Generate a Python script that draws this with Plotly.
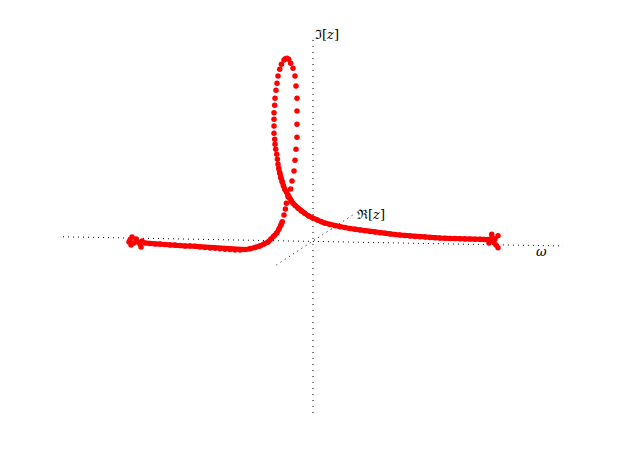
import plotly.graph_objects as go

# Curve samples, projected view coordinates (horizontal ~ omega axis, vertical ~ Im axis)
curve_x = [
    -184, -183, -181, -182, -179, -177, -175, -173, -171, -172,
    -168, -163, -158, -153, -148, -143, -138, -133, -128, -123, -118, -113, -108, -103,
    -98, -93, -88, -83, -78, -73, -68, -63, -58, -53, -49, -45, -42, -39, -36.3, -34,
    -32, -30.7,
    -29, -27.6, -26.6, -25, -22.3, -21, -19, -18, -17, -16, -16, -16, -16, -17, -18,
    -20, -22.3, -24.3, -26, -27.6, -29, -31.6, -33.3, -35, -36, -37, -38, -38.3, -39,
    -39, -39, -39, -38.3, -38, -37.3, -36.3, -35.6, -35, -34.3, -33.3, -32.3, -31,
    -29.6, -28.3, -26.6, -25, -23.3, -21.8, -20, -17.8, -15, -11.8, -8.3, -4.3, 0,
    4.2, 8.4, 11.7, 17, 22, 27, 32, 37, 42, 47, 52, 57, 62, 67, 72, 77, 82, 87, 92,
    97, 102, 107, 112, 117, 122, 127, 132, 137, 142, 147, 152, 157, 162, 167, 171, 175,
    177, 178.7, 185, 185, 181, 179, 182, 176, 183,
]
curve_y = [
    -1, 1, 4, -4, -2, 2, -1, -3, 0, -6,
    -2, -2.5, -3, -3, -3.5, -4, -4, -4.5, -5, -5, -5.3, -6, -6.5, -7,
    -7.3, -7.7, -8.2, -8.6, -8.9, -9, -8.6, -7.8, -6.6, -5, -3, -1, 2, 5, 8, 12,
    16, 19.3,
    26, 32, 37.7, 44.3, 52, 60, 70, 80.7, 91.7, 103.7, 116.7, 130, 142.7, 155, 165,
    172.7, 177.7, 181.7, 182.7, 182.3, 181, 176.7, 171.7, 165, 157.7, 150.7, 142.7, 135.7, 128.3,
    121.7, 115, 107.7, 101.7, 96.7, 91.7, 86.7, 81.7, 76.7, 72.7, 67.7, 63.3, 59.3,
    55.3, 52, 49, 46, 42.7, 40, 37.7, 35.5, 32.7, 30, 27.7, 25, 22.7,
    21, 19.3, 18, 16.5, 15.2, 14.3, 13.4, 12.5, 11.7, 11, 10.2, 9.5, 8.9, 8.3, 7.7, 7.1, 6.5, 6, 5.5,
    5, 4.6, 4.3, 4, 3.6, 3.3, 3, 2.8, 2.6, 2.4, 2.3, 2.1, 2, 1.8, 1.7, 1.5, 1.5,
    1, 6.7, 5.3, -6.7, -1.7, 4, 2, -2, -4,
]
# Index ranges of the curve where the samples are packed so tightly they merge
dense_segments = [(10, 42), (80, len(curve_x) - 9)]

# Axis extents in the same projected view coordinates
omega_axis_x = [-250, 250]
omega_axis_y = [4.2, -5]
im_axis_x = [0, 0]
im_axis_y = [201, -174]
re_axis_x = [-36.6, 39.7]
re_axis_y = [-24, 26]

axis_labels = ["\u2111[<i>z</i>]", "\u211c[<i>z</i>]", "<i>\u03c9</i>"]
label_x = [0, 42, 228]
label_y = [207, 27, -10]

fig = go.Figure()
for ax_x, ax_y, dash in [(omega_axis_x, omega_axis_y, "1px,4px"),
                         (im_axis_x, im_axis_y, "1px,5px"),
                         (re_axis_x, re_axis_y, "1px,4px")]:
    fig.add_trace(go.Scatter(x=ax_x, y=ax_y, mode="lines",
                             line=dict(color="black", width=1, dash=dash),
                             hoverinfo="skip", showlegend=False))

for a, b in dense_segments:
    fig.add_trace(go.Scatter(x=curve_x[a:b], y=curve_y[a:b], mode="lines",
                             line=dict(color="#ff0000", width=5),
                             hoverinfo="skip", showlegend=False))

fig.add_trace(go.Scatter(x=curve_x, y=curve_y, mode="markers",
                         marker=dict(color="#ff0000", size=5.5, symbol="circle",
                                     line=dict(width=0)),
                         showlegend=False))

anchors = ["left", "left", "center"]
for t, x, y, a in zip(axis_labels, label_x, label_y, anchors):
    fig.add_annotation(x=x, y=y, text=t, showarrow=False, xanchor=a, yanchor="middle",
                       font=dict(family="DejaVu Serif", size=13, color="black"))

fig.update_layout(
    width=627, height=467, margin=dict(l=0, r=0, t=0, b=0),
    paper_bgcolor="white", plot_bgcolor="white",
    xaxis=dict(visible=False, range=[-313, 314]),
    yaxis=dict(visible=False, range=[-226, 241]),
)
fig.write_html("out.html", config={"displayModeBar": False},
               post_script="document.body.style.margin='0';document.body.style.overflow='hidden';")
